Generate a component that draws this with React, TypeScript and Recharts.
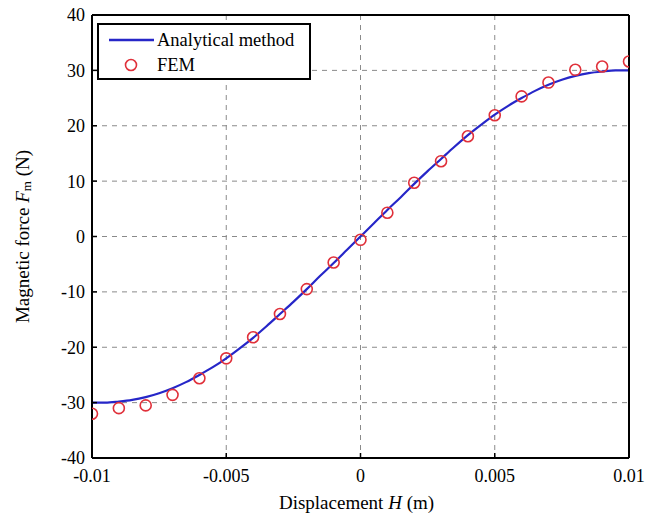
import React from "react";
import {
  ComposedChart,
  Line,
  Scatter,
  XAxis,
  YAxis,
  CartesianGrid,
  Legend,
} from "recharts";

// Analytical method curve (x in m, force in N)
const lineX = [
  -0.01, -0.0095, -0.009, -0.0085, -0.008, -0.0075, -0.007, -0.0065, -0.006, -0.0055,
  -0.005, -0.0045, -0.004, -0.0035, -0.003, -0.0025, -0.002, -0.0015, -0.001, -0.0005,
  0, 0.0005, 0.001, 0.0015, 0.002, 0.0025, 0.003, 0.0035, 0.004, 0.0045,
  0.005, 0.0055, 0.006, 0.0065, 0.007, 0.0075, 0.008, 0.0085, 0.009, 0.0095, 0.01,
];
const lineY = [
  -30.0, -30.0, -29.8, -29.5, -29.0, -28.3, -27.4, -26.3, -25.0, -23.6,
  -22.0, -20.2, -18.3, -16.2, -14.0, -11.8, -9.5, -7.1, -4.8, -2.4,
  0, 2.4, 4.8, 7.1, 9.5, 11.8, 14.0, 16.2, 18.3, 20.2,
  22.0, 23.6, 25.0, 26.3, 27.4, 28.3, 29.0, 29.5, 29.8, 30.0, 30.0,
];

// FEM results
const femX = [
  -0.01, -0.009, -0.008, -0.007, -0.006, -0.005, -0.004, -0.003, -0.002, -0.001,
  0, 0.001, 0.002, 0.003, 0.004, 0.005, 0.006, 0.007, 0.008, 0.009, 0.01,
];
const femY = [
  -32.0, -31.0, -30.5, -28.6, -25.6, -22.0, -18.2, -14.0, -9.5, -4.7,
  -0.6, 4.3, 9.7, 13.6, 18.1, 21.9, 25.3, 27.8, 30.1, 30.7, 31.6,
];

const xTicks = [-0.01, -0.005, 0, 0.005, 0.01];
const xTickLabels = ["-0.01", "-0.005", "0", "0.005", "0.01"];
const yTicks = [-40, -30, -20, -10, 0, 10, 20, 30, 40];

const seriesNames = ["Analytical method", "FEM"];

const lineData = lineX.map((x, i) => ({ x, y: lineY[i] }));
const femData = femX.map((x, i) => ({ x, y: femY[i] }));

const FONT = "'Liberation Serif', 'Times New Roman', serif";
const LINE_COLOR = "#2626c8";
const FEM_COLOR = "#e0303a";

const FemMarker = (props: any) => {
  const { cx, cy } = props;
  if (cx == null || cy == null) return null;
  return <circle cx={cx} cy={cy} r={5.5} fill="none" stroke={FEM_COLOR} strokeWidth={1.6} />;
};

const LegendBox = () => (
  <div
    style={{
      width: 214,
      height: 57,
      border: "2px solid #000",
      background: "#fff",
      boxSizing: "border-box",
      fontFamily: FONT,
      fontSize: 18,
      color: "#000",
      position: "relative",
    }}
  >
    <svg width={210} height={53} style={{ position: "absolute", left: 0, top: 0 }}>
      <line x1={10} x2={55} y1={15} y2={15} stroke={LINE_COLOR} strokeWidth={2.5} />
      <text x={58} y={21} fontFamily={FONT} fontSize={18.5} fill="#000">
        {seriesNames[0]}
      </text>
      <circle cx={32} cy={40} r={5.5} fill="none" stroke={FEM_COLOR} strokeWidth={1.6} />
      <text x={58} y={46} fontFamily={FONT} fontSize={18.5} fill="#000">
        {seriesNames[1]}
      </text>
    </svg>
  </div>
);

const YLabel = (props: any) => {
  const vb = props.viewBox || {};
  const cx = (vb.x ?? 32) - 10;
  const cy = (vb.y ?? 15) + (vb.height ?? 443) / 2;
  return (
    <text
      x={cx}
      y={cy}
      transform={`rotate(-90 ${cx} ${cy})`}
      textAnchor="middle"
      dominantBaseline="central"
      fontFamily={FONT}
      fontSize={19}
      fill="#000"
    >
      <tspan>Magnetic force </tspan>
      <tspan fontStyle="italic">F</tspan>
      <tspan fontSize={13} dy={4}>m</tspan>
      <tspan dy={-4}> (N)</tspan>
    </text>
  );
};

const XLabel = (props: any) => {
  const vb = props.viewBox || {};
  const cx = (vb.x ?? 92) + (vb.width ?? 537) / 2 - 4;
  const cy = (vb.y ?? 458) + 51;
  return (
    <text x={cx} y={cy} textAnchor="middle" fontFamily={FONT} fontSize={19} fill="#000">
      <tspan>Displacement </tspan>
      <tspan fontStyle="italic">H</tspan>
      <tspan> (m)</tspan>
    </text>
  );
};

export default function App() {
  const tickStyle = { fontFamily: FONT, fontSize: 18, fill: "#000" };
  return (
    <div style={{ position: "absolute", left: 0, top: 0, width: 658, height: 517, background: "#fff" }}>
      <ComposedChart
        width={658}
        height={517}
        margin={{ top: 14, right: 28, bottom: 0, left: 32 }}
      >
        <CartesianGrid
          stroke="#8a8a8a"
          strokeDasharray="5 5"
          strokeWidth={1}
          vertical
          horizontal
          verticalValues={xTicks}
          horizontalValues={yTicks}
        />
        <XAxis
          dataKey="x"
          type="number"
          domain={[-0.01, 0.01]}
          ticks={xTicks}
          interval={0}
          tickFormatter={(v: number) => xTickLabels[xTicks.indexOf(v)] ?? String(v)}
          height={59}
          tick={tickStyle}
          tickSize={-5}
          tickMargin={16}
          axisLine={{ stroke: "#000", strokeWidth: 2 }}
          tickLine={{ stroke: "#000", strokeWidth: 1.5 }}
          allowDataOverflow
          label={<XLabel />}
        />
        <XAxis
          xAxisId="top"
          orientation="top"
          type="number"
          domain={[-0.01, 0.01]}
          ticks={xTicks}
          interval={0}
          height={1}
          tick={false}
          tickSize={-5}
          axisLine={{ stroke: "#000", strokeWidth: 2 }}
          tickLine={{ stroke: "#000", strokeWidth: 1.5 }}
          allowDataOverflow
        />
        <YAxis
          dataKey="y"
          type="number"
          domain={[-40, 40]}
          ticks={yTicks}
          interval={0}
          width={60}
          tick={tickStyle}
          tickSize={-5}
          tickMargin={12}
          axisLine={{ stroke: "#000", strokeWidth: 2 }}
          tickLine={{ stroke: "#000", strokeWidth: 1.5 }}
          allowDataOverflow
          label={<YLabel />}
        />
        <YAxis
          yAxisId="right"
          orientation="right"
          type="number"
          domain={[-40, 40]}
          ticks={yTicks}
          interval={0}
          width={1}
          tick={false}
          tickSize={-5}
          axisLine={{ stroke: "#000", strokeWidth: 2 }}
          tickLine={{ stroke: "#000", strokeWidth: 1.5 }}
          allowDataOverflow
        />
        <Line
          data={lineData}
          dataKey="y"
          type="monotone"
          stroke={LINE_COLOR}
          strokeWidth={2.2}
          dot={false}
          activeDot={false}
          isAnimationActive={false}
          name={seriesNames[0]}
        />
        <Scatter
          data={femData}
          dataKey="y"
          shape={<FemMarker />}
          isAnimationActive={false}
          name={seriesNames[1]}
        />
        <Legend
          content={<LegendBox />}
          layout="horizontal"
          verticalAlign="middle"
          align="center"
          wrapperStyle={{ position: "absolute", top: 23, left: 97, width: 214, height: 57 }}
        />
      </ComposedChart>
    </div>
  );
}
